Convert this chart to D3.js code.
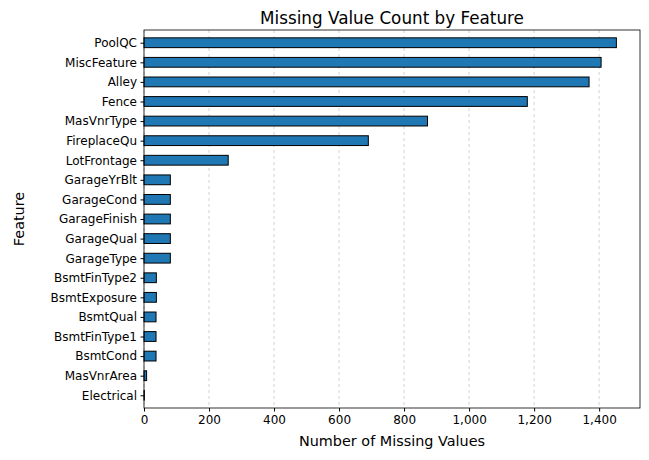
<!DOCTYPE html>
<html lang="en">
<head>
<meta charset="UTF-8">
<script src="https://d3js.org/d3.v7.min.js"></script>
<style>body{margin:0;background:#fff;} text{font-family:"DejaVu Sans",sans-serif;}</style>
</head>
<body>
<div id="chart"></div>
<script>
// data, top to bottom as drawn
const features = ["PoolQC","MiscFeature","Alley","Fence","MasVnrType","FireplaceQu","LotFrontage",
    "GarageYrBlt","GarageCond","GarageFinish","GarageQual","GarageType","BsmtFinType2","BsmtExposure",
    "BsmtQual","BsmtFinType1","BsmtCond","MasVnrArea","Electrical"];
const missing = [1453,1406,1369,1179,872,690,259,81,81,81,81,81,38,38,37,37,37,8,1];
const xTicks = [0,200,400,600,800,1000,1200,1400];

const svg = d3.select("#chart").append("svg").attr("width", 649).attr("height", 460);
const plot = {left: 144, right: 640, top: 30, bottom: 408};

const x = d3.scaleLinear().domain([0, 1453 * 1.05]).range([plot.left, plot.right]);
const y = d3.scaleLinear().domain([-0.65, features.length - 0.35]).range([plot.top, plot.bottom]);
const step = y(1) - y(0);

// grid
svg.append("g").selectAll("line").data(xTicks).join("line")
    .attr("x1", d => x(d)).attr("x2", d => x(d))
    .attr("y1", plot.top).attr("y2", plot.bottom)
    .attr("stroke", "#b0b0b0").attr("stroke-width", 0.8)
    .attr("stroke-dasharray", "3,3").attr("opacity", 0.7);

// bars
svg.append("g").selectAll("rect").data(features).join("rect")
    .attr("x", x(0))
    .attr("y", (d, i) => y(i) - step * 0.25)
    .attr("width", (d, i) => x(missing[i]) - x(0))
    .attr("height", step * 0.5)
    .attr("fill", "#1f77b4").attr("stroke", "black").attr("stroke-width", 1);

// axes
const xAxis = svg.append("g").attr("transform", `translate(0,${plot.bottom})`)
    .call(d3.axisBottom(x).tickValues(xTicks).tickSize(3.5).tickPadding(3.5));
const yAxis = svg.append("g").attr("transform", `translate(${plot.left},0)`)
    .call(d3.axisLeft(y).tickValues(d3.range(features.length)).tickFormat(i => features[i]).tickSize(3.5).tickPadding(3.5));
[xAxis, yAxis].forEach(a => {
    a.select(".domain").remove();
    a.selectAll("text").attr("font-size", 12).attr("font-family", "DejaVu Sans").attr("fill", "black");
    a.selectAll("line").attr("stroke", "black");
});

svg.append("rect").attr("x", plot.left).attr("y", plot.top)
    .attr("width", plot.right - plot.left).attr("height", plot.bottom - plot.top)
    .attr("fill", "none").attr("stroke", "black").attr("stroke-width", 0.8);

svg.append("text").attr("x", (plot.left + plot.right) / 2).attr("y", 24)
    .attr("text-anchor", "middle").attr("font-size", 16.8).text("Missing Value Count by Feature");
svg.append("text").attr("x", (plot.left + plot.right) / 2).attr("y", 446)
    .attr("text-anchor", "middle").attr("font-size", 14.4).text("Number of Missing Values");
svg.append("text").attr("transform", `translate(24,${(plot.top + plot.bottom) / 2}) rotate(-90)`)
    .attr("text-anchor", "middle").attr("font-size", 14.4).text("Feature");
</script>
</body>
</html>
